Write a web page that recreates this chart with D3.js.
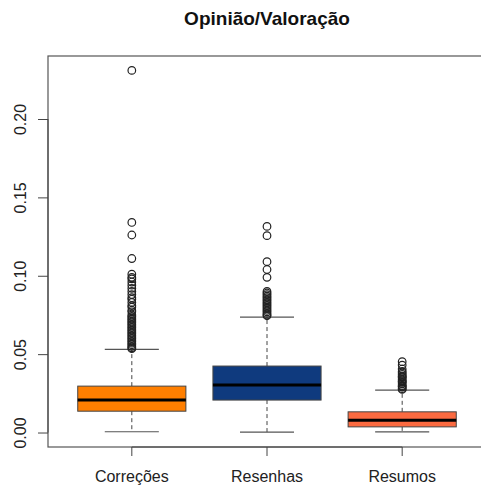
<!DOCTYPE html>
<html>
<head>
<meta charset="utf-8">
<script src="https://cdn.jsdelivr.net/npm/d3@7"></script>
<style>
  html, body { margin: 0; padding: 0; background: #fff; }
  svg { display: block; font-family: "Liberation Sans", Arial, Helvetica, sans-serif; }
</style>
</head>
<body>
<svg id="chart" width="481" height="486"></svg>
<script>
// ---- data ----
const categories = ["Correções", "Resenhas", "Resumos"];
const colors = ["#FF7F00", "#0F3A7E", "#FB6A40"];
const whiskerLow = [0.0005, 0.0002, 0.0004];
const q1 = [0.0136, 0.0207, 0.0036];
const medians = [0.0207, 0.0303, 0.0079];
const q3 = [0.0296, 0.0424, 0.0132];
const whiskerHigh = [0.0531, 0.0736, 0.0271];
const outliersCorrecoes = [0.231, 0.134, 0.126, 0.111, 0.101, 0.099, 0.098, 0.096, 0.094, 0.092, 0.090, 0.088,
  0.086, 0.085, 0.083, 0.081, 0.080, 0.078, 0.077, 0.075, 0.074, 0.073, 0.072, 0.071, 0.070, 0.069, 0.068,
  0.067, 0.066, 0.065, 0.064, 0.063, 0.062, 0.061, 0.060, 0.059, 0.058, 0.057, 0.056, 0.055, 0.054, 0.0535];
const outliersResenhas = [0.1315, 0.1256, 0.109, 0.104, 0.099, 0.090, 0.089, 0.088, 0.087, 0.086, 0.085,
  0.084, 0.083, 0.082, 0.081, 0.080, 0.079, 0.078, 0.077, 0.076, 0.075, 0.0745];
const outliersResumos = [0.0452, 0.043, 0.0405, 0.039, 0.038, 0.037, 0.036, 0.0355, 0.035, 0.034, 0.033,
  0.0325, 0.032, 0.031, 0.030, 0.0295, 0.029, 0.028, 0.0275];
const yTicks = [0, 0.05, 0.10, 0.15, 0.20];
const yTickLabels = ["0.00", "0.05", "0.10", "0.15", "0.20"];
const title = "Opinião/Valoração";

const outliers = [outliersCorrecoes, outliersResenhas, outliersResumos];
const boxes = categories.map((c, i) => ({
  cat: c, color: colors[i], lo: whiskerLow[i], q1: q1[i], med: medians[i],
  q3: q3[i], hi: whiskerHigh[i], out: outliers[i]
}));

// ---- layout ----
const plot = { left: 48, right: 486, top: 56, bottom: 447 };
const svg = d3.select("#chart");

const y = d3.scaleLinear().domain([-0.00924, 0.2402]).range([plot.bottom, plot.top]);
const stepApprox = (plot.right - plot.left) / 3.24;
const x = d3.scaleBand().domain(categories)
  .range([plot.left + 0.12 * stepApprox, plot.right - 0.12 * stepApprox])
  .paddingInner(0.2).paddingOuter(0.1);
const bw = x.bandwidth();
const cx = c => x(c) + bw / 2;

const ink = "#222";
const fontFam = "'Liberation Sans', Arial, sans-serif";

// plot frame
svg.append("rect")
  .attr("x", plot.left).attr("y", plot.top)
  .attr("width", plot.right - plot.left).attr("height", plot.bottom - plot.top)
  .attr("fill", "none").attr("stroke", "#555").attr("stroke-width", 1.2);

// boxes
const g = svg.append("g");
boxes.forEach(b => {
  const xc = cx(b.cat);
  g.append("line").attr("x1", xc).attr("x2", xc).attr("y1", y(b.q3)).attr("y2", y(b.hi))
    .attr("stroke", "#444").attr("stroke-width", 1).attr("stroke-dasharray", "4,3");
  g.append("line").attr("x1", xc).attr("x2", xc).attr("y1", y(b.q1)).attr("y2", y(b.lo))
    .attr("stroke", "#444").attr("stroke-width", 1).attr("stroke-dasharray", "4,3");
  [b.hi, b.lo].forEach(v => {
    g.append("line").attr("x1", xc - bw / 4).attr("x2", xc + bw / 4)
      .attr("y1", y(v)).attr("y2", y(v)).attr("stroke", "#555").attr("stroke-width", 1.2);
  });
  g.append("rect").attr("x", x(b.cat)).attr("width", bw)
    .attr("y", y(b.q3)).attr("height", y(b.q1) - y(b.q3))
    .attr("fill", b.color).attr("stroke", "#444").attr("stroke-width", 1);
  g.append("line").attr("x1", x(b.cat)).attr("x2", x(b.cat) + bw)
    .attr("y1", y(b.med)).attr("y2", y(b.med)).attr("stroke", "#000").attr("stroke-width", 3);
  g.selectAll(null).data(b.out).enter().append("circle")
    .attr("cx", xc).attr("cy", d => y(d)).attr("r", 3.8)
    .attr("fill", "none").attr("stroke", ink).attr("stroke-width", 1.2);
});

// y axis
const yAxis = d3.axisLeft(y).tickValues(yTicks).tickSize(10)
  .tickFormat((d, i) => yTickLabels[i]);
const ya = svg.append("g").attr("transform", `translate(${plot.left},0)`).call(yAxis);
ya.select(".domain").remove();
ya.append("line").attr("x1", 0).attr("x2", 0)
  .attr("y1", y(yTicks[0])).attr("y2", y(yTicks[yTicks.length - 1]))
  .attr("stroke", "#444");
ya.selectAll(".tick line").attr("stroke", "#444");
ya.selectAll(".tick text")
  .attr("x", null).attr("dy", null)
  .attr("transform", "translate(-28,0) rotate(-90)")
  .attr("text-anchor", "middle").attr("dominant-baseline", "central")
  .attr("fill", "#222").style("font-size", "16px").style("font-family", fontFam);

// x axis
const xAxis = d3.axisBottom(x).tickSize(9);
const xa = svg.append("g").attr("transform", `translate(0,${plot.bottom})`).call(xAxis);
xa.select(".domain").remove();
xa.append("line").attr("x1", cx(categories[0])).attr("x2", cx(categories[categories.length - 1]))
  .attr("y1", 0).attr("y2", 0).attr("stroke", "#444");
xa.selectAll(".tick line").attr("stroke", "#444");
xa.selectAll(".tick text").attr("y", 35).attr("dy", null)
  .attr("fill", "#222").style("font-size", "16px").style("font-family", fontFam);

// title
svg.append("text").attr("x", (plot.left + plot.right) / 2).attr("y", 25)
  .attr("text-anchor", "middle").style("font-size", "19px").style("font-weight", "bold")
  .style("font-family", fontFam).attr("fill", "#111").text(title);
</script>
</body>
</html>
